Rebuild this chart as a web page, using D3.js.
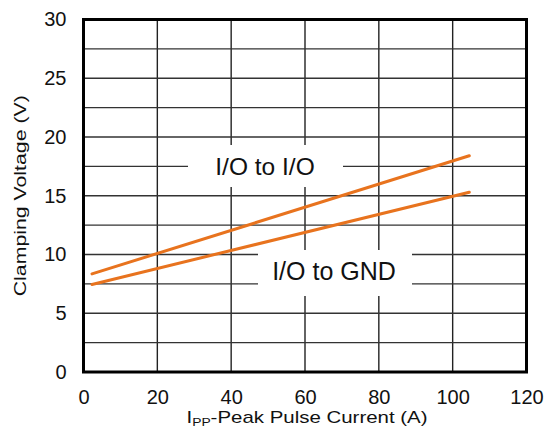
<!DOCTYPE html>
<html><head><meta charset="utf-8">
<script src="https://cdn.jsdelivr.net/npm/d3@7"></script>
<style>body{margin:0;background:#fff}text{font-family:"Liberation Sans",Arial,sans-serif;fill:#111}</style>
</head><body>
<script>
const xTicks = [0,20,40,60,80,100,120];
const yTicks = [0,5,10,15,20,25,30];
const yGrid = [2.5,5,7.5,10,12.5,15,17.5,20,22.5,25,27.5];
const seriesNames = ["I/O to I/O","I/O to GND"];
const ioToIoX = [2.3,104.5];
const ioToIoY = [8.35,18.4];
const ioToGndX = [2.3,104.5];
const ioToGndY = [7.45,15.3];

const W=544,H=435;
const m={l:83.5,r:526.5,t:19.5,b:372};
const svg=d3.select("body").append("svg").attr("width",W).attr("height",H);
const x=d3.scaleLinear().domain([0,120]).range([m.l,m.r]);
const y=d3.scaleLinear().domain([0,30]).range([m.b,m.t]);

// grid
svg.append("g").selectAll("line").data(xTicks.slice(1,-1)).join("line")
 .attr("x1",d=>x(d)).attr("x2",d=>x(d)).attr("y1",m.t).attr("y2",m.b)
 .attr("stroke","#222").attr("stroke-width",1.4);
svg.append("g").selectAll("line").data(yGrid).join("line")
 .attr("y1",d=>y(d)).attr("y2",d=>y(d)).attr("x1",m.l).attr("x2",m.r)
 .attr("stroke","#333").attr("stroke-width",1.4);

// lines
const line=d3.line().x(d=>x(d[0])).y(d=>y(d[1]));
const s1=ioToIoX.map((v,i)=>[v,ioToIoY[i]]);
const s2=ioToGndX.map((v,i)=>[v,ioToGndY[i]]);
[s1,s2].forEach(s=>svg.append("path").datum(s).attr("d",line)
 .attr("fill","none").attr("stroke","#E8731E").attr("stroke-width",3).attr("stroke-linecap","round"));

// labels with white boxes
svg.append("rect").attr("x",188).attr("y",145).attr("width",155).attr("height",42).attr("fill","#fff");
svg.append("text").attr("x",265).attr("y",175).attr("text-anchor","middle").attr("font-size",24.5).text(seriesNames[0]);
svg.append("rect").attr("x",258).attr("y",250).attr("width",154).attr("height",46).attr("fill","#fff");
svg.append("text").attr("x",334).attr("y",280).attr("text-anchor","middle").attr("font-size",25).text(seriesNames[1]);

// frame
svg.append("rect").attr("x",m.l).attr("y",m.t).attr("width",m.r-m.l).attr("height",m.b-m.t)
 .attr("fill","none").attr("stroke","#000").attr("stroke-width",3);

// axes
const xa=svg.append("g").attr("transform",`translate(0,${m.b})`)
 .call(d3.axisBottom(x).tickValues(xTicks).tickSize(0).tickPadding(18).tickFormat(d3.format("d")));
const ya=svg.append("g").attr("transform",`translate(${m.l},0)`)
 .call(d3.axisLeft(y).tickValues(yTicks).tickSize(0).tickPadding(17).tickFormat(d3.format("d")));
[xa,ya].forEach(a=>{a.select(".domain").remove();a.selectAll("text").attr("font-size",20).attr("font-family","Liberation Sans, Arial").attr("fill","#111");});

// titles
const xt=svg.append("text").attr("x",186.5).attr("y",423).attr("font-size",17)
 .attr("textLength",241).attr("lengthAdjust","spacingAndGlyphs");
xt.append("tspan").text("I");
xt.append("tspan").attr("font-size",11.5).attr("dy",3).text("PP");
xt.append("tspan").attr("dy",-3).text("-Peak Pulse Current (A)");
svg.append("text").attr("transform",`translate(26,${(m.t+m.b)/2+0}) rotate(-90)`)
 .attr("text-anchor","middle").attr("font-size",17)
 .attr("textLength",201).attr("lengthAdjust","spacingAndGlyphs").text("Clamping Voltage (V)");
</script>
</body></html>
